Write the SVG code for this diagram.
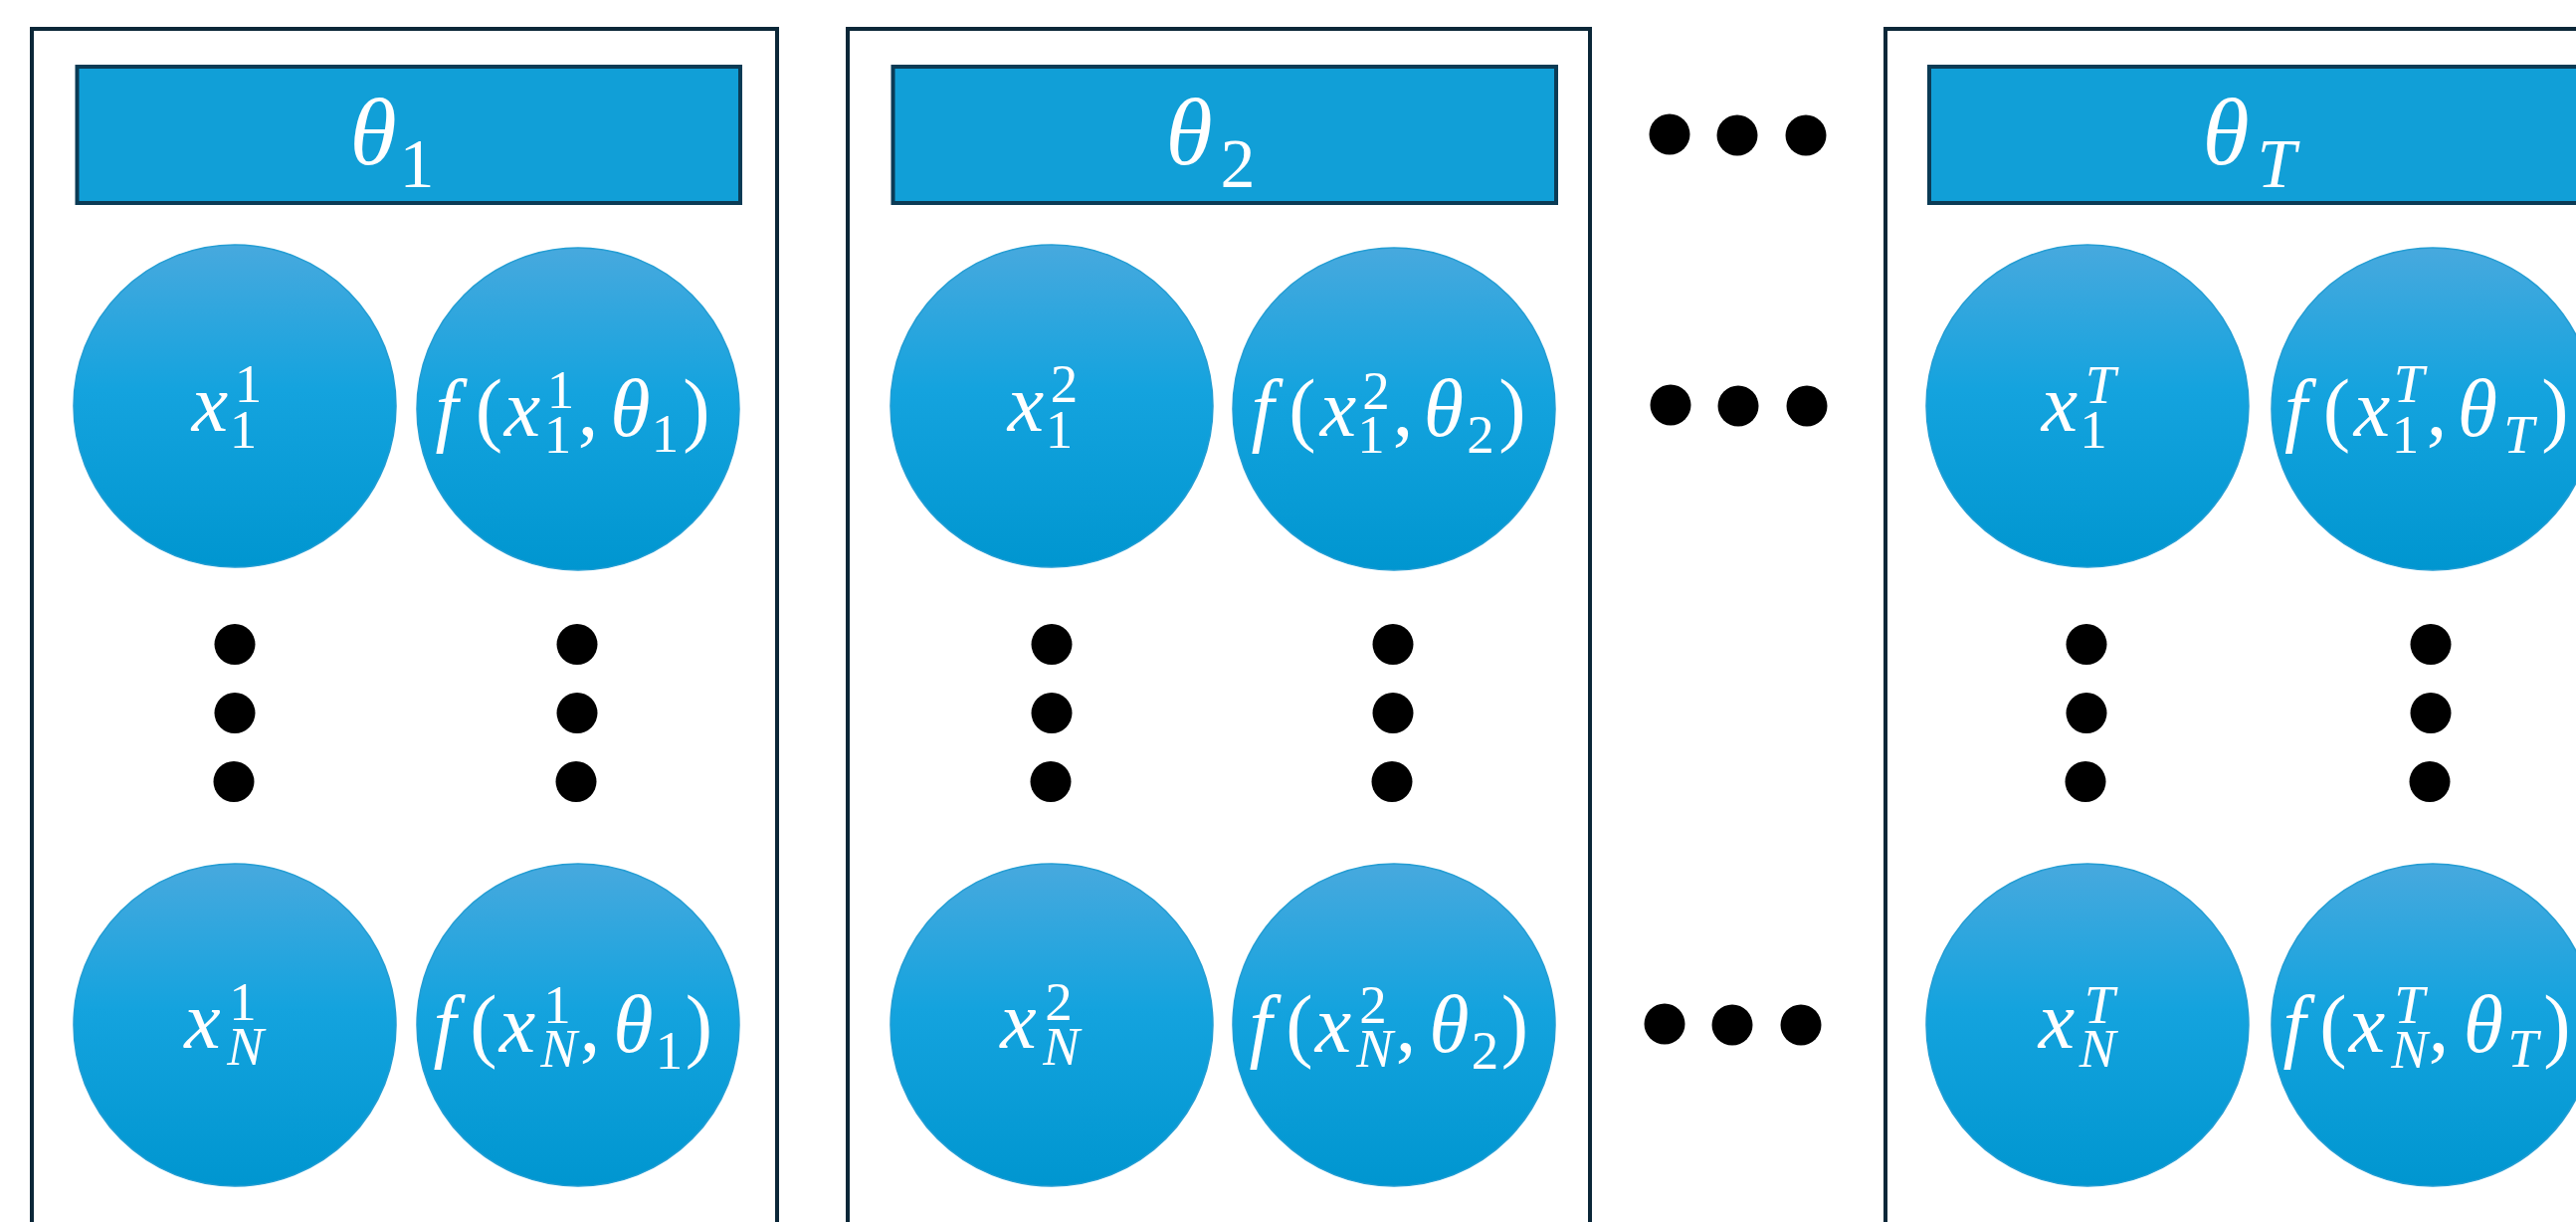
<svg xmlns="http://www.w3.org/2000/svg" width="2589" height="1228" viewBox="0 0 2589 1228">
  <defs>
    <linearGradient id="ballFill" x1="0" y1="0" x2="0" y2="1">
      <stop offset="0" stop-color="#47a9de"/>
      <stop offset="0.45" stop-color="#14a3de"/>
      <stop offset="1" stop-color="#0096d0"/>
    </linearGradient>
    <style>
      .frame { fill: none; stroke: #0b2738; stroke-width: 4; }
      .head { fill: #119fd7; stroke: #0b3b55; stroke-width: 4; }
      .ball { fill: url(#ballFill); stroke: #239dd3; stroke-width: 1.5; }
      .dot { fill: #000; }
      .eq { font-family: "Liberation Serif", "DejaVu Serif", serif; fill: #fff; text-anchor: middle; }
      .i { font-style: italic; }
      .m { font-size: 82px; }
      .s { font-size: 55px; }
      .hm { font-size: 96px; }
      .hs { font-size: 70px; }
    </style>
  </defs>

  <rect width="2589" height="1228" fill="#fff"/>

  <!-- Panel 1: parameters theta_1 -->
  <g id="panel-1">
    <rect class="frame" x="32" y="29" width="749" height="1300"/>
    <g id="theta-1">
      <rect class="head" x="77.5" y="67" width="666.5" height="137"/>
      <text class="eq"><tspan class="i hm" x="375" y="165">θ</tspan><tspan class="hs" x="419" y="188">1</tspan></text>
    </g>
    <g id="x-1-1">
      <circle class="ball" cx="236" cy="408" r="162"/>
      <text class="eq"><tspan class="i m" x="211" y="433">x</tspan><tspan class="s" x="249.5" y="404">1</tspan><tspan class="s" x="244.5" y="450">1</tspan></text>
    </g>
    <g id="f-1-1">
      <circle class="ball" cx="581" cy="411" r="162"/>
      <text class="eq"><tspan class="i m" x="449" y="438">f</tspan><tspan class="m" x="491.5" y="438">(</tspan><tspan class="i m" x="525" y="438">x</tspan><tspan class="s" x="563.5" y="410">1</tspan><tspan class="s" x="560.5" y="455">1</tspan><tspan class="m" x="591" y="438">,</tspan><tspan class="i m" x="633.5" y="438">θ</tspan><tspan class="s" x="668.5" y="454">1</tspan><tspan class="m" x="700" y="438">)</tspan></text>
    </g>
    <g id="x-N-1">
      <circle class="ball" cx="236" cy="1030" r="162"/>
      <text class="eq"><tspan class="i m" x="203.5" y="1053">x</tspan><tspan class="s" x="244" y="1025">1</tspan><tspan class="i s" x="246.5" y="1070">N</tspan></text>
    </g>
    <g id="f-N-1">
      <circle class="ball" cx="581" cy="1030" r="162"/>
      <text class="eq"><tspan class="i m" x="447" y="1057">f</tspan><tspan class="m" x="486" y="1057">(</tspan><tspan class="i m" x="520" y="1057">x</tspan><tspan class="s" x="560" y="1028">1</tspan><tspan class="i s" x="561.5" y="1072">N</tspan><tspan class="m" x="593" y="1057">,</tspan><tspan class="i m" x="636.5" y="1057">θ</tspan><tspan class="s" x="672.5" y="1074">1</tspan><tspan class="m" x="702.5" y="1057">)</tspan></text>
    </g>
    <g id="vdots-1">
      <circle class="dot" cx="236" cy="647.5" r="20.5"/>
      <circle class="dot" cx="236" cy="716.5" r="20.5"/>
      <circle class="dot" cx="235" cy="785.5" r="20.5"/>
      <circle class="dot" cx="580" cy="647.5" r="20.5"/>
      <circle class="dot" cx="580" cy="716.5" r="20.5"/>
      <circle class="dot" cx="579" cy="785.5" r="20.5"/>
    </g>
  </g>

  <!-- Panel 2: parameters theta_2 -->
  <g id="panel-2">
    <rect class="frame" x="852" y="29" width="746" height="1300"/>
    <g id="theta-2">
      <rect class="head" x="897.5" y="67" width="666.5" height="137"/>
      <text class="eq"><tspan class="i hm" x="1195" y="165">θ</tspan><tspan class="hs" x="1244" y="188">2</tspan></text>
    </g>
    <g id="x-1-2">
      <circle class="ball" cx="1057" cy="408" r="162"/>
      <text class="eq"><tspan class="i m" x="1031" y="433">x</tspan><tspan class="s" x="1069.5" y="404">2</tspan><tspan class="s" x="1064.5" y="450">1</tspan></text>
    </g>
    <g id="f-1-2">
      <circle class="ball" cx="1401" cy="411" r="162"/>
      <text class="eq"><tspan class="i m" x="1269" y="438">f</tspan><tspan class="m" x="1309" y="438">(</tspan><tspan class="i m" x="1345" y="438">x</tspan><tspan class="s" x="1383" y="411">2</tspan><tspan class="s" x="1378" y="455">1</tspan><tspan class="m" x="1410" y="438">,</tspan><tspan class="i m" x="1451" y="438">θ</tspan><tspan class="s" x="1488" y="455">2</tspan><tspan class="m" x="1520" y="438">)</tspan></text>
    </g>
    <g id="x-N-2">
      <circle class="ball" cx="1057" cy="1030" r="162"/>
      <text class="eq"><tspan class="i m" x="1023.5" y="1053">x</tspan><tspan class="s" x="1064" y="1025">2</tspan><tspan class="i s" x="1066.5" y="1070">N</tspan></text>
    </g>
    <g id="f-N-2">
      <circle class="ball" cx="1401" cy="1030" r="162"/>
      <text class="eq"><tspan class="i m" x="1267" y="1057">f</tspan><tspan class="m" x="1306" y="1057">(</tspan><tspan class="i m" x="1340" y="1057">x</tspan><tspan class="s" x="1380" y="1028">2</tspan><tspan class="i s" x="1381.5" y="1072">N</tspan><tspan class="m" x="1413" y="1057">,</tspan><tspan class="i m" x="1456.5" y="1057">θ</tspan><tspan class="s" x="1492.5" y="1074">2</tspan><tspan class="m" x="1522.5" y="1057">)</tspan></text>
    </g>
    <g id="vdots-2">
      <circle class="dot" cx="1057" cy="647.5" r="20.5"/>
      <circle class="dot" cx="1057" cy="716.5" r="20.5"/>
      <circle class="dot" cx="1056" cy="785.5" r="20.5"/>
      <circle class="dot" cx="1400" cy="647.5" r="20.5"/>
      <circle class="dot" cx="1400" cy="716.5" r="20.5"/>
      <circle class="dot" cx="1399" cy="785.5" r="20.5"/>
    </g>
  </g>

  <!-- Ellipsis between panel 2 and panel T -->
  <g id="hdots">
    <circle class="dot" cx="1678" cy="135" r="20.5"/>
    <circle class="dot" cx="1746" cy="136" r="20.5"/>
    <circle class="dot" cx="1815" cy="136" r="20.5"/>
    <circle class="dot" cx="1679" cy="407" r="20.5"/>
    <circle class="dot" cx="1747" cy="408" r="20.5"/>
    <circle class="dot" cx="1816" cy="408" r="20.5"/>
    <circle class="dot" cx="1673" cy="1029" r="20.5"/>
    <circle class="dot" cx="1741" cy="1030" r="20.5"/>
    <circle class="dot" cx="1810" cy="1030" r="20.5"/>
  </g>

  <!-- Panel T: parameters theta_T -->
  <g id="panel-T">
    <rect class="frame" x="1895" y="29" width="800" height="1300"/>
    <g id="theta-T">
      <rect class="head" x="1939" y="67" width="800" height="137"/>
      <text class="eq"><tspan class="i hm" x="2237" y="165">θ</tspan><tspan class="i hs" x="2288" y="188">T</tspan></text>
    </g>
    <g id="x-1-T">
      <circle class="ball" cx="2098" cy="408" r="162"/>
      <text class="eq"><tspan class="i m" x="2070" y="433">x</tspan><tspan class="i s" x="2111" y="405">T</tspan><tspan class="s" x="2104" y="450">1</tspan></text>
    </g>
    <g id="f-1-T">
      <circle class="ball" cx="2445" cy="411" r="162"/>
      <text class="eq"><tspan class="i m" x="2307.5" y="438">f</tspan><tspan class="m" x="2348.5" y="438">(</tspan><tspan class="i m" x="2384" y="438">x</tspan><tspan class="i s" x="2421" y="404">T</tspan><tspan class="s" x="2417.5" y="455">1</tspan><tspan class="m" x="2449" y="438">,</tspan><tspan class="i m" x="2490" y="438">θ</tspan><tspan class="i s" x="2531.5" y="455">T</tspan><tspan class="m" x="2568" y="438">)</tspan></text>
    </g>
    <g id="x-N-T">
      <circle class="ball" cx="2098" cy="1030" r="162"/>
      <text class="eq"><tspan class="i m" x="2067" y="1053">x</tspan><tspan class="i s" x="2110" y="1028">T</tspan><tspan class="i s" x="2108" y="1072">N</tspan></text>
    </g>
    <g id="f-N-T">
      <circle class="ball" cx="2445" cy="1030" r="162"/>
      <text class="eq"><tspan class="i m" x="2306" y="1057">f</tspan><tspan class="m" x="2345" y="1057">(</tspan><tspan class="i m" x="2379" y="1057">x</tspan><tspan class="i s" x="2421.5" y="1028">T</tspan><tspan class="i s" x="2421.5" y="1073">N</tspan><tspan class="m" x="2451" y="1057">,</tspan><tspan class="i m" x="2496" y="1057">θ</tspan><tspan class="i s" x="2535.5" y="1072">T</tspan><tspan class="m" x="2570" y="1057">)</tspan></text>
    </g>
    <g id="vdots-T">
      <circle class="dot" cx="2097" cy="647.5" r="20.5"/>
      <circle class="dot" cx="2097" cy="716.5" r="20.5"/>
      <circle class="dot" cx="2096" cy="785.5" r="20.5"/>
      <circle class="dot" cx="2443" cy="647.5" r="20.5"/>
      <circle class="dot" cx="2443" cy="716.5" r="20.5"/>
      <circle class="dot" cx="2442" cy="785.5" r="20.5"/>
    </g>
  </g>
</svg>
